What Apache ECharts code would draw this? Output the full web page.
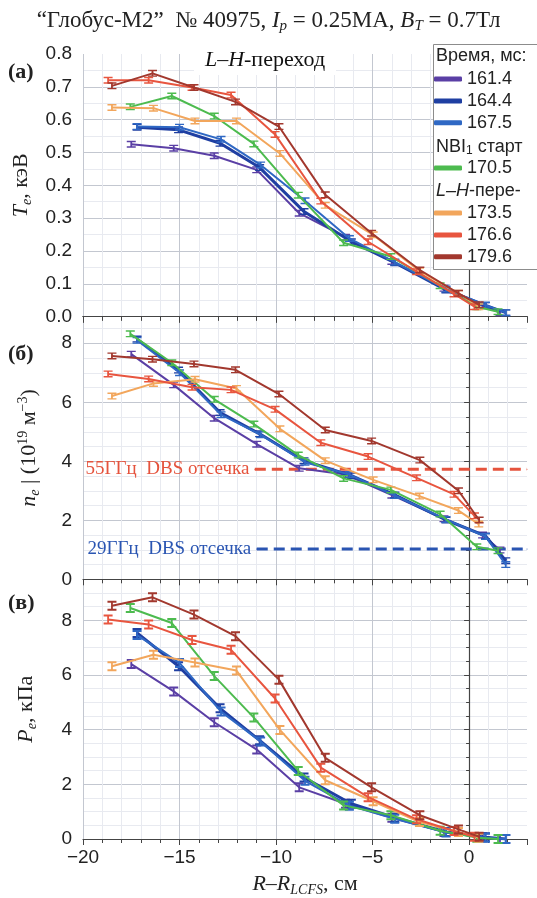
<!DOCTYPE html>
<html>
<head>
<meta charset="utf-8">
<script src="https://cdn.jsdelivr.net/npm/echarts@6/dist/echarts.min.js"></script>
<style>
html, body { margin: 0; padding: 0; background: #fff; }
#chart { width: 537px; height: 898px; }
</style>
</head>
<body>
<div id="chart"></div>
<script>
// time slices (ms) and colours
var times = ['161.4', '164.4', '167.5', '170.5', '173.5', '176.6', '179.6'];
var colors = ['#5a3fa5', '#1f3fa2', '#2f68c4', '#4dbb4f', '#f2a65c', '#e8553f', '#a2382e'];
var widths = [2, 3, 2, 2, 2, 2, 2];

// R - R_LCFS, cm
var r161 = [-17.5, -15.3, -13.2, -11.0, -8.8, -6.4, -4.0, -1.3, 0.7, 1.6];
var r164 = [-17.2, -15.05, -12.9, -10.85, -8.55, -6.1, -3.85, -1.2, 0.85, 1.9];
var r167 = [-17.2, -15.0, -12.85, -10.8, -8.5, -6.2, -3.85, -1.2, 0.85, 1.9];
var r170 = [-17.55, -15.4, -13.2, -11.15, -8.85, -6.5, -4.05, -1.5, 0.4, 1.5];
var r173 = [-18.5, -16.35, -14.2, -12.05, -9.8, -7.45, -4.97, -2.57, -0.55, 0.5];
var r176 = [-18.7, -16.6, -14.35, -12.33, -10.05, -7.68, -5.23, -2.72, -0.78, 0.28];
var r179 = [-18.5, -16.4, -14.25, -12.1, -9.85, -7.45, -5.05, -2.55, -0.55, 0.52];

// Te, keV
var te161 = [0.525, 0.513, 0.49, 0.447, 0.315, 0.242, 0.168, 0.086, 0.033, 0.012];
var te164 = [0.577, 0.569, 0.528, 0.454, 0.32, 0.228, 0.164, 0.081, 0.034, 0.012];
var te167 = [0.579, 0.577, 0.54, 0.462, 0.353, 0.238, 0.166, 0.084, 0.035, 0.012];
var te170 = [0.639, 0.672, 0.611, 0.526, 0.37, 0.225, 0.183, 0.094, 0.03, 0.015];
var te173 = [0.637, 0.635, 0.596, 0.596, 0.497, 0.339, 0.249, 0.139, 0.071, 0.03];
var te176 = [0.72, 0.72, 0.698, 0.675, 0.555, 0.352, 0.228, 0.137, 0.069, 0.03];
var te179 = [0.703, 0.741, 0.698, 0.654, 0.579, 0.371, 0.254, 0.142, 0.071, 0.036];

// ne, 10^19 m^-3
var ne161 = [7.63, 6.59, 5.46, 4.58, 3.76, 3.55, 2.85, 2.05, 1.5, 0.99];
var ne164 = [8.14, 7.09, 5.65, 4.93, 4.02, 3.51, 2.86, 2.01, 1.47, 0.63];
var ne167 = [8.1, 7.0, 5.58, 4.9, 3.97, 3.55, 2.84, 2.03, 1.45, 0.5];
var ne170 = [8.32, 7.34, 6.1, 5.26, 4.21, 3.42, 3.03, 2.21, 1.1, 0.97];
var ne173 = [6.21, 6.64, 6.78, 6.47, 5.1, 4.02, 3.37, 2.82, 2.33, 1.87];
var ne176 = [6.96, 6.79, 6.51, 6.42, 5.76, 4.63, 4.16, 3.44, 2.88, 2.15];
var ne179 = [7.57, 7.46, 7.3, 7.1, 6.28, 5.06, 4.69, 4.04, 3.0, 2.01];

// Pe, kPa
var pe161 = [6.4, 5.4, 4.27, 3.27, 1.89, 1.29, 0.78, 0.26, 0.06, 0.0];
var pe164 = [7.54, 6.32, 4.78, 3.61, 2.25, 1.29, 0.78, 0.26, 0.06, 0.0];
var pe167 = [7.46, 6.44, 4.66, 3.57, 2.13, 1.22, 0.74, 0.24, 0.05, 0.0];
var pe170 = [8.45, 7.9, 5.96, 4.44, 2.49, 1.23, 0.87, 0.3, 0.05, 0.0];
var pe173 = [6.32, 6.74, 6.46, 6.16, 3.99, 2.15, 1.38, 0.62, 0.26, 0.05];
var pe176 = [8.03, 7.85, 7.28, 6.92, 5.14, 2.61, 1.53, 0.72, 0.29, 0.08];
var pe179 = [8.53, 8.84, 8.21, 7.42, 5.83, 2.97, 1.89, 0.87, 0.35, 0.08];

// DBS cut-off densities
var dbs55X = [-11.1, 3];
var dbs55Y = 3.73;
var dbs29X = [-11.0, 3];
var dbs29Y = 1.03;

var rList = [r161, r164, r167, r170, r173, r176, r179];
var teList = [te161, te164, te167, te170, te173, te176, te179];
var neList = [ne161, ne164, ne167, ne170, ne173, ne176, ne179];
var peList = [pe161, pe164, pe167, pe170, pe173, pe176, pe179];

var errBar = 'path://M0,0H10V2H6V8H10V10H0V8H4V2H0Z';
var sans = 'Liberation Sans';
var serif = 'Liberation Serif';

var gridTops = [54, 316.7, 579.3];
var gridH = 262.6;

function pair(xs, ys) {
	return xs.map(function(x, i) { return [x, ys[i]]; });
}

function minus(v) {
	return v < 0 ? '\u2212' + (-v) : '' + v;
}

var series = [];
var panels = [teList, neList, peList];
var symSizes = [[9, 7], [9, 7], [9, 10]];
for (var g = 0; g < 3; g++) {
	for (var k = 0; k < times.length; k++) {
		series.push({
			name : times[k],
			type : 'line',
			xAxisIndex : g,
			yAxisIndex : g,
			data : pair(rList[k], panels[g][k]),
			symbol : errBar,
			symbolSize : symSizes[g],
			showSymbol : true,
			itemStyle : { color : colors[k] },
			lineStyle : { color : colors[k], width : widths[k] },
			z : 2 + k * 0.1
		});
	}
}

// DBS cut-off lines in the ne panel
function dbsLine(xs, y, color, text) {
	return {
		type : 'line',
		xAxisIndex : 1,
		yAxisIndex : 1,
		data : [
			{ value : [xs[0], y], label : { show : true, position : 'left', distance : 5, formatter : text } },
			{ value : [xs[1], y] }
		],
		symbol : 'circle',
		symbolSize : 1,
		showSymbol : true,
		itemStyle : { color : color },
		lineStyle : { color : color, width : 3, type : [11, 6] },
		label : { color : color, fontFamily : serif, fontSize : 19 },
		z : 1.5
	};
}
series.push(dbsLine(dbs55X, dbs55Y, '#e5533d', '55ГГц  DBS отсечка'));
series.push(dbsLine(dbs29X, dbs29Y, '#2a55b2', '29ГГц  DBS отсечка'));

var grids = [], xAxes = [], yAxes = [];
var yMax = [0.8, 8.9, 9.5];
var yInt = [0.1, 2, 2];
var yMinor = [2, 4, 4];
var rich = {
	i : { fontFamily : serif, fontStyle : 'italic', fontSize : 22, color : '#222' },
	r : { fontFamily : serif, fontSize : 22, color : '#222' },
	s : { fontFamily : serif, fontStyle : 'italic', fontSize : 14, color : '#222', padding : [12, 0, 0, 0] },
	p : { fontFamily : serif, fontSize : 14, color : '#222', padding : [0, 0, 12, 0] }
};
var titleRich = {
	i : { fontFamily : serif, fontStyle : 'italic', fontSize : 23, color : '#222' },
	r : { fontFamily : serif, fontSize : 23, color : '#222' },
	s : { fontFamily : serif, fontStyle : 'italic', fontSize : 15, color : '#222', padding : [12, 0, 0, 0] }
};
var yNames = [
	'{i|T}{s|e}{r|, кэВ}',
	'{i|n}{s|e}{r| | (10}{p|19}{r| м}{p|\u22123}{r|)}',
	'{i|P}{s|e}{r|, кПа}'
];
for (var g = 0; g < 3; g++) {
	grids.push({ left : 83, width : 444, top : gridTops[g], height : gridH });
	xAxes.push({
		type : 'value',
		gridIndex : g,
		min : -20,
		max : 3,
		interval : 5,
		axisLine : { show : true, onZero : false, lineStyle : { color : '#444', width : 1.2 } },
		axisTick : { show : true, length : 6, lineStyle : { color : '#444' } },
		minorTick : { show : true, splitNumber : 5, length : 4, lineStyle : { color : '#444' } },
		axisLabel : {
			show : g === 2,
			showMaxLabel : false,
			fontFamily : sans,
			fontSize : 19,
			color : '#222',
			margin : 9,
			formatter : minus
		},
		splitLine : { show : true, showMaxLine : false, lineStyle : { color : '#c3c7d0' } },
		minorSplitLine : { show : true, lineStyle : { color : '#e8eaf0' } },
		name : g === 2 ? '{i|R\u2013R}{s|LCFS}{r|, см}' : '',
		nameLocation : 'middle',
		nameGap : 32,
		nameTextStyle : { rich : rich }
	});
	yAxes.push({
		type : 'value',
		gridIndex : g,
		min : 0,
		max : yMax[g],
		interval : yInt[g],
		axisLine : { show : true, lineStyle : { color : '#444', width : 1.2 } },
		axisTick : { show : true, length : 5, lineStyle : { color : '#444' } },
		minorTick : { show : true, splitNumber : yMinor[g], length : 3, lineStyle : { color : '#444' } },
		axisLabel : {
			showMaxLabel : g === 0,
			fontFamily : sans,
			fontSize : 19,
			color : '#222',
			margin : 11
		},
		splitLine : { show : true, showMaxLine : false, lineStyle : { color : '#c3c7d0' } },
		minorSplitLine : { show : true, lineStyle : { color : '#e8eaf0' } },
		name : yNames[g],
		nameLocation : 'middle',
		nameGap : g === 1 ? 41 : 44,
		nameTextStyle : { rich : rich }
	});
}
yAxes[0].axisLabel.formatter = function(v) { return v.toFixed(1); };
yAxes[1].axisLabel.formatter = function(v) { return '' + v; };
yAxes[2].axisLabel.formatter = function(v) { return '' + v; };

// top frame line of the upper panel
xAxes.push({
	type : 'value',
	gridIndex : 0,
	position : 'top',
	min : -20,
	max : 3,
	interval : 5,
	axisLine : { show : true, lineStyle : { color : '#444', width : 1.2 } },
	axisTick : { show : true, inside : true, length : 6, lineStyle : { color : '#444' } },
	minorTick : { show : true, splitNumber : 5, length : 4, lineStyle : { color : '#444' } },
	axisLabel : { show : false },
	splitLine : { show : false }
});

var legendText = { fontFamily : sans, fontSize : 18, color : '#222', lineHeight : 20 };
function legendBlock(names, top) {
	return {
		data : names,
		orient : 'vertical',
		left : 434,
		top : top,
		icon : 'roundRect',
		itemWidth : 28,
		itemHeight : 5,
		itemGap : 1.9,
		padding : 0,
		selectedMode : false,
		textStyle : legendText,
		z : 10
	};
}

var option = {
	animation : false,
	backgroundColor : '#fff',
	title : {
		text : '“Глобус-М2”  № 40975, {i|I}{s|p}{r| = 0.25МА, }{i|B}{s|T}{r| = 0.7Тл}',
		left : 'center',
		top : 2,
		textStyle : {
			fontFamily : serif,
			fontSize : 23,
			fontWeight : 'normal',
			color : '#222',
			rich : titleRich
		}
	},
	grid : grids,
	xAxis : xAxes,
	yAxis : yAxes,
	legend : [
		legendBlock([times[0], times[1], times[2]], 69),
		legendBlock([times[3]], 158),
		legendBlock([times[4], times[5], times[6]], 203)
	],
	graphic : [
		{ type : 'rect', shape : { x : 433.5, y : 44.5, width : 110, height : 225 }, style : { fill : '#fff', stroke : '#8c8c8c', lineWidth : 1 }, z : 3 },
		{ type : 'text', x : 436, y : 47, z : 10, style : { text : 'Время, мс:', font : '18px "Liberation Sans"', fill : '#222' } },
		{ type : 'text', x : 436, y : 137, z : 10, style : { text : 'NBI{sub|1} старт', font : '18px "Liberation Sans"', fill : '#222', rich : { sub : { fontSize : 12, fontFamily : sans, padding : [8, 0, 0, 0] } } } },
		{ type : 'text', x : 436, y : 182, z : 10, style : { text : '{it|L–H}-пере-', font : '18px "Liberation Sans"', fill : '#222', rich : { it : { fontStyle : 'italic', fontSize : 18, fontFamily : sans } } } },
		{ type : 'rect', shape : { x : 194, y : 44, width : 142, height : 31 }, style : { fill : '#fff' }, z : 3 },
		{ type : 'text', x : 265, y : 60, z : 10, style : { text : '{i|L\u2013H}{r|-переход}', align : 'center', verticalAlign : 'middle', rich : { i : { fontFamily : serif, fontStyle : 'italic', fontSize : 22, fill : '#111' }, r : { fontFamily : serif, fontSize : 22, fill : '#111' } } } },
		{ type : 'text', x : 8, y : 61, z : 10, style : { text : '(а)', font : 'bold 22px "Liberation Serif"', fill : '#222' } },
		{ type : 'text', x : 8, y : 343, z : 10, style : { text : '(б)', font : 'bold 22px "Liberation Serif"', fill : '#222' } },
		{ type : 'text', x : 8, y : 592, z : 10, style : { text : '(в)', font : 'bold 22px "Liberation Serif"', fill : '#222' } }
	],
	series : series
};

var chart = echarts.init(document.getElementById('chart'));
chart.setOption(option);
</script>
</body>
</html>
